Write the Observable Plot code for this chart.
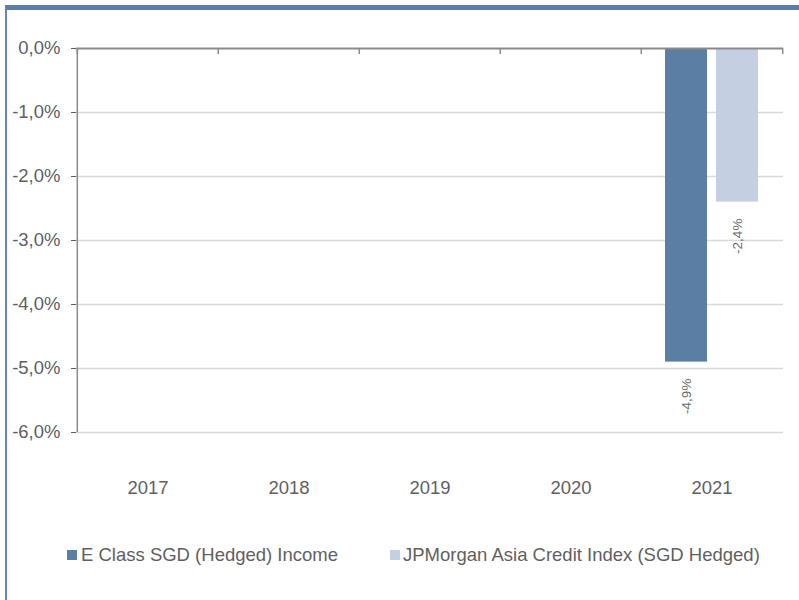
<!DOCTYPE html>
<html>
<head>
<meta charset="utf-8">
<script src="https://cdn.jsdelivr.net/npm/d3@7"></script>
<script src="https://cdn.jsdelivr.net/npm/@observablehq/plot@0.6"></script>
<style>
  html, body { margin: 0; padding: 0; background: #fff; }
  #wrap { position: relative; width: 799px; height: 600px; overflow: hidden; font-family: "Liberation Sans", Arial, sans-serif; }
  #border { position: absolute; left: 5px; top: 5px; width: 800px; height: 600px; border-top: 5px solid #5b7fa4; border-left: 2.5px solid #6489b1; pointer-events: none; }
  #chart { position: absolute; left: 0; top: 0; }
  .leg { position: absolute; top: 543px; height: 24px; line-height: 24px; font-size: 18.5px; color: #5f5f5f; white-space: nowrap; }
  .sw { position: absolute; width: 10px; height: 10px; top: 550px; }
</style>
</head>
<body>
<div id="wrap">
  <div id="chart"></div>
  <div id="border"></div>
</div>
<script>
const years = ["2017", "2018", "2019", "2020", "2021"];
const seriesNames = ["E Class SGD (Hedged) Income", "JPMorgan Asia Credit Index (SGD Hedged)"];
const fundValues = [null, null, null, null, -4.9];
const indexValues = [null, null, null, null, -2.4];
const yTicks = [0, -1, -2, -3, -4, -5, -6];
const colors = ["#5b7fa4", "#c4d0e2"];

const fmt = v => v.toFixed(1).replace(".", ",") + "%";

const fundRows = years.map((year, i) => ({year, value: fundValues[i]})).filter(d => d.value != null);
const indexRows = years.map((year, i) => ({year, value: indexValues[i]})).filter(d => d.value != null);

const width = 799, height = 520;
const marginLeft = 76, marginRight = 16, marginTop = 48, marginBottom = 88;
const step = (width - marginLeft - marginRight) / years.length;

const plot = Plot.plot({
  width, height, marginLeft, marginRight, marginTop, marginBottom,
  style: {fontFamily: "'Liberation Sans', Arial, sans-serif", fontSize: "18.5px", color: "#5f5f5f", background: "transparent"},
  x: {type: "band", domain: years, padding: 0, axis: "bottom", tickSize: 0, tickPadding: 48, label: null},
  y: {domain: [-6, 0], ticks: yTicks, tickFormat: fmt, tickSize: 5, tickPadding: 11, label: null},
  marks: [
    Plot.ruleY(yTicks.filter(t => t !== 0), {stroke: "#d9d9d9", strokeWidth: 1.5}),
    Plot.barY(fundRows, {x: "year", y: "value", fill: colors[0], insetLeft: 24, insetRight: 75}),
    Plot.barY(indexRows, {x: "year", y: "value", fill: colors[1], insetLeft: 75, insetRight: 24}),
    Plot.text(fundRows, {x: "year", y: "value", text: d => fmt(d.value), rotate: -90, textAnchor: "end", dx: -25.4, dy: 16.5, fontSize: 13.5, fill: "#6b6b6b"}),
    Plot.text(indexRows, {x: "year", y: "value", text: d => fmt(d.value), rotate: -90, textAnchor: "end", dx: 25.4, dy: 16.5, fontSize: 13.5, fill: "#6b6b6b"}),
    Plot.ruleX([years[0]], {x: d => d, dx: -step / 2, y1: -6, y2: 0, stroke: "#8a8a8a", strokeWidth: 1.5}),
    Plot.ruleY([0], {stroke: "#8a8a8a", strokeWidth: 2}),
    Plot.ruleX(years, {x: d => d, dx: -step / 2, y1: 0, y2: 0, insetBottom: -6, stroke: "#8a8a8a", strokeWidth: 1.5}),
    Plot.ruleX([years[years.length - 1]], {x: d => d, dx: step / 2, y1: 0, y2: 0, insetBottom: -6, stroke: "#8a8a8a", strokeWidth: 1.5})
  ]
});
document.getElementById("chart").appendChild(plot);

// Legend (HTML, below the SVG)
const wrap = document.getElementById("wrap");
const legendPos = [{sw: 67, tx: 81}, {sw: 390, tx: 403}];
seriesNames.forEach((name, i) => {
  const sw = document.createElement("div");
  sw.className = "sw";
  sw.style.left = legendPos[i].sw + "px";
  sw.style.background = colors[i];
  wrap.appendChild(sw);
  const t = document.createElement("div");
  t.className = "leg";
  t.style.left = legendPos[i].tx + "px";
  t.textContent = name;
  wrap.appendChild(t);
});
</script>
</body>
</html>
